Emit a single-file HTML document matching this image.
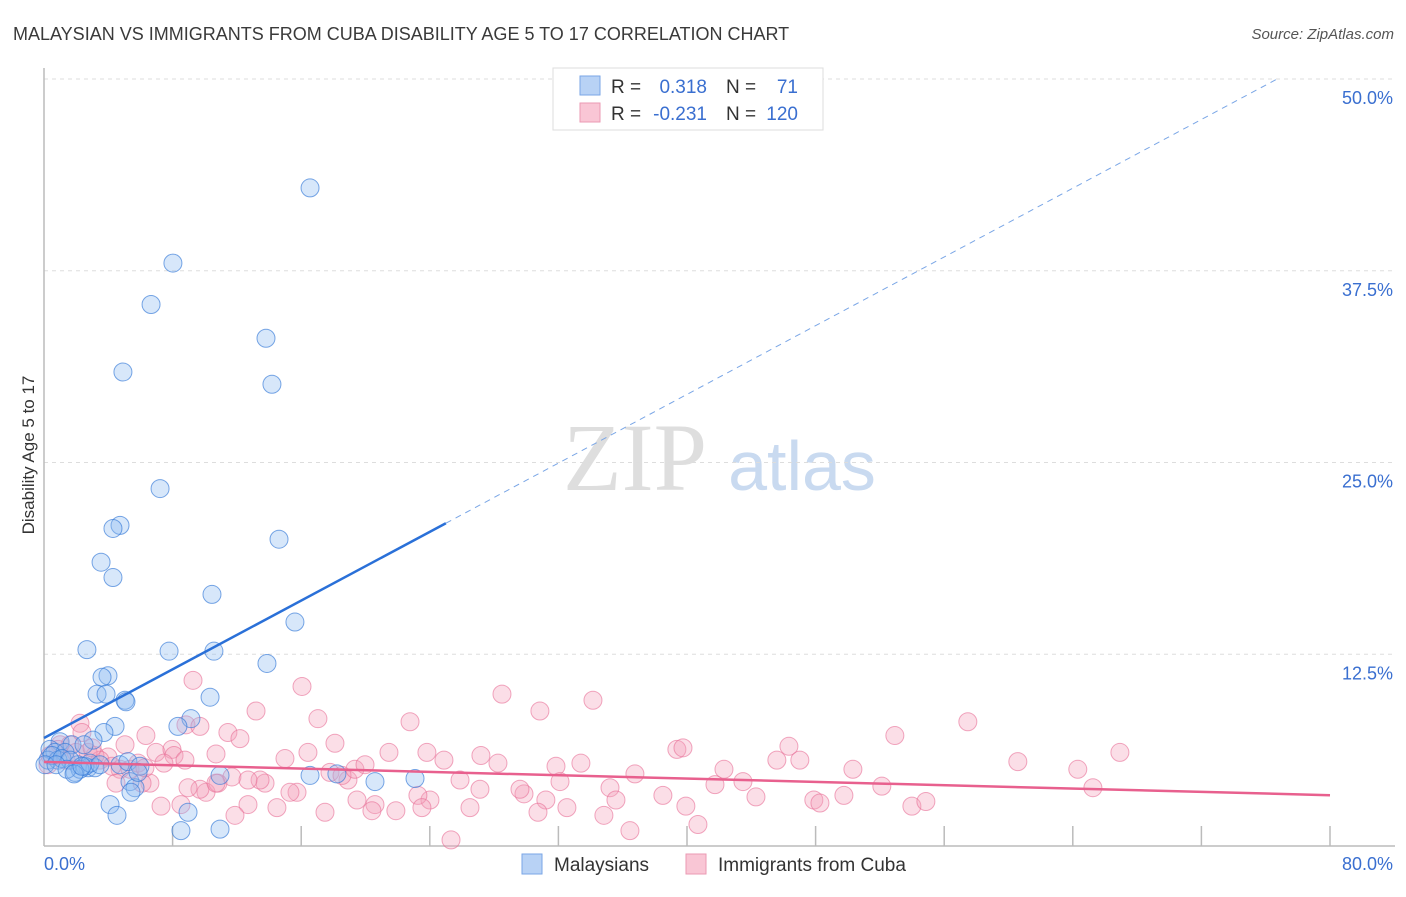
<!DOCTYPE html>
<html><head><meta charset="utf-8"><style>
body{margin:0;background:#fff;font-family:"Liberation Sans",sans-serif}
svg text{font-family:"Liberation Sans",sans-serif}
</style></head><body>
<svg id="chart" width="1406" height="892" viewBox="0 0 1406 892" xmlns="http://www.w3.org/2000/svg">
<text x="13" y="40" font-size="18" fill="#3a3a3a">MALAYSIAN VS IMMIGRANTS FROM CUBA DISABILITY AGE 5 TO 17 CORRELATION CHART</text>
<text x="1394" y="39" font-size="15" fill="#555" font-style="italic" text-anchor="end">Source: ZipAtlas.com</text>
<g>
<text x="635" y="490" font-size="96" fill="#dedede" text-anchor="middle" style="font-family:'Liberation Serif',serif">ZIP</text>
<text x="802" y="490" font-size="70" fill="#c9daf0" text-anchor="middle">atlas</text>
</g>
<g id="grid"></g>
<g id="axes"></g>
<g id="pts"></g>
<g id="lines"></g>
<text transform="translate(34,455) rotate(-90)" font-size="17" fill="#333" text-anchor="middle">Disability Age 5 to 17</text>
<g>
<rect x="553" y="68" width="270" height="62" fill="#fff" stroke="#ddd"/>
<rect x="580" y="76" width="20" height="19" fill="#b8d2f5" stroke="#7aa6e6"/>
<rect x="580" y="103" width="20" height="19" fill="#f9c6d5" stroke="#eb9ab3"/>
<text x="611" y="93" font-size="19" fill="#333">R =</text>
<text x="707" y="93" font-size="19" fill="#3a6fd0" text-anchor="end">0.318</text>
<text x="726" y="93" font-size="19" fill="#333">N =</text>
<text x="798" y="93" font-size="19" fill="#3a6fd0" text-anchor="end">71</text>
<text x="611" y="120" font-size="19" fill="#333">R =</text>
<text x="707" y="120" font-size="19" fill="#3a6fd0" text-anchor="end">-0.231</text>
<text x="726" y="120" font-size="19" fill="#333">N =</text>
<text x="798" y="120" font-size="19" fill="#3a6fd0" text-anchor="end">120</text>
</g>
<g>
<rect x="522" y="854" width="20" height="20" fill="#b8d2f5" stroke="#7aa6e6"/>
<text x="554" y="871" font-size="19" fill="#333">Malaysians</text>
<rect x="686" y="854" width="20" height="20" fill="#f9c6d5" stroke="#eb9ab3"/>
<text x="718" y="871" font-size="19" fill="#333">Immigrants from Cuba</text>
</g>
</svg>
<script>
const yTicks=[12.5,25,37.5,50];
const yTickLabels=["12.5%","25.0%","37.5%","50.0%"];
const xTickVals=[0,8,16,24,32,40,48,56,64,72,80];
const xEndLabels=["0.0%","80.0%"];
const blueX=[16.55,8.02,6.66,13.81,4.91,14.18,7.22,4.73,4.29,14.62,3.55,4.29,10.45,15.61,2.67,7.78,10.57,13.87,3.98,3.61,3.30,3.86,5.04,10.33,5.10,9.14,8.33,4.42,3.73,3.05,1.0,1.74,2.49,0.37,0.68,1.31,0.25,0.87,2.11,2.74,3.17,2.55,1.93,4.73,5.22,5.97,16.55,20.59,23.08,10.95,18.22,5.35,5.66,5.41,4.11,4.54,8.96,8.52,10.95,0.5,1.12,1.62,2.24,2.86,3.48,0.06,0.75,1.43,1.87,2.36,5.85];
const blueY=[42.9,38.0,35.3,33.1,30.9,30.1,23.3,20.9,20.7,20.0,18.5,17.5,16.4,14.6,12.8,12.7,12.7,11.9,11.1,11.0,9.9,9.9,9.5,9.7,9.4,8.3,7.8,7.8,7.4,6.9,6.8,6.6,6.6,6.3,6.1,6.1,5.6,5.6,5.3,5.1,5.1,5.2,4.8,5.3,5.5,5.2,4.6,4.2,4.4,4.6,4.7,4.2,3.8,3.5,2.7,2.0,2.2,1.0,1.1,5.9,5.7,5.6,5.0,5.4,5.3,5.3,5.3,5.0,4.7,5.2,4.8];
const pinkX=[9.27,16.05,28.49,34.15,30.85,17.04,22.77,57.47,13.19,52.93,11.44,12.19,6.34,2.24,2.36,8.83,9.70,6.97,7.96,8.09,8.77,7.46,5.04,3.98,10.70,18.10,16.42,14.99,21.46,23.82,24.88,27.18,28.24,31.85,33.40,36.76,39.37,39.75,42.30,46.34,47.02,45.59,50.32,60.58,64.31,66.93,65.25,52.12,41.74,43.48,35.21,32.10,29.86,31.22,35.58,38.50,39.93,44.29,47.89,48.27,49.76,53.99,54.86,40.68,36.45,34.83,32.53,30.73,25.32,26.50,24.01,23.26,23.51,21.89,20.59,19.47,20.40,17.48,15.74,15.30,13.75,13.44,11.69,12.69,10.08,9.70,10.82,8.96,7.28,8.52,12.69,14.49,11.88,10.70,6.59,6.10,4.73,5.35,4.48,3.17,3.48,1.0,1.62,0.37,0.25,0.87,1.37,1.99,2.74,2.99,4.23,5.85,6.28,18.91,17.79,18.54,19.34,19.97,25.88,27.12,29.61];
const pinkY=[10.8,10.4,9.9,9.5,8.8,8.3,8.1,8.1,8.8,7.2,7.4,7.0,7.2,8.0,7.4,7.9,7.8,6.1,6.3,5.9,5.6,5.4,6.6,5.8,6.0,6.7,6.1,5.7,6.1,6.1,5.6,5.9,5.4,5.2,5.4,4.7,6.3,6.4,5.0,6.5,5.6,5.6,5.0,5.5,5.0,6.1,3.8,3.9,4.0,4.2,3.8,4.2,3.4,3.0,3.0,3.3,2.6,3.2,3.0,2.8,3.3,2.6,2.9,1.4,1.0,2.0,2.5,2.2,0.4,2.5,3.0,3.3,2.5,2.3,2.7,3.0,2.3,2.2,3.5,3.5,4.1,4.3,4.5,4.3,3.5,3.7,4.1,3.8,2.6,2.7,2.7,2.5,2.0,4.1,4.1,4.1,5.0,5.0,4.1,5.9,5.6,6.6,6.6,5.9,5.3,6.3,5.6,6.1,6.1,6.4,5.2,5.4,5.1,4.3,4.8,4.6,5.0,5.3,4.3,3.7,3.7];
const blueTrend=[7.04,0.56,25,76.7];
const pinkTrend=[5.48,-0.0271,80];

const X0=44,X1=1330,Y0=846,Y50=79;
const sx=v=>X0+(X1-X0)*v/80;
const sy=v=>Y0-(Y0-Y50)*v/50;
const NS="http://www.w3.org/2000/svg";
function mk(tag,attrs,parent){const e=document.createElementNS(NS,tag);for(const k in attrs)e.setAttribute(k,attrs[k]);document.getElementById(parent).appendChild(e);return e;}

yTicks.forEach((t,i)=>{
  const g=mk('line',{x1:X0,x2:1395,y1:sy(t),y2:sy(t),stroke:'#ddd','stroke-dasharray':'4,4'},'grid');
  
  
  const tx=mk('text',{x:1393,y:sy(t)+25,'font-size':18,fill:'#3a6fd0','text-anchor':'end'},'axes');
  tx.textContent=yTickLabels[i];
  
  
});
const ax=mk('line',{x1:X0,x2:X0,y1:68,y2:Y0,stroke:'#bbb','stroke-width':1.5},'axes');


const bx=mk('line',{x1:X0,x2:1395,y1:Y0,y2:Y0,stroke:'#bbb','stroke-width':1.5},'axes');


xTickVals.forEach(t=>{
  if(t===0)return;
  const l=mk('line',{x1:sx(t),x2:sx(t),y1:826,y2:Y0,stroke:'#bbb','stroke-width':1.5},'axes');
  
  
});
const xl0=mk('text',{x:X0,y:870,'font-size':18,fill:'#3a6fd0'},'axes');xl0.textContent=xEndLabels[0];


const xl1=mk('text',{x:1393,y:870,'font-size':18,fill:'#3a6fd0','text-anchor':'end'},'axes');xl1.textContent=xEndLabels[1];



pinkX.forEach((v,i)=>{
  const c=mk('circle',{cx:sx(v),cy:sy(pinkY[i]),r:9,fill:'rgba(244,160,185,0.35)',stroke:'rgba(232,110,150,0.6)','stroke-width':1},'pts');
  
  
});
blueX.forEach((v,i)=>{
  const c=mk('circle',{cx:sx(v),cy:sy(blueY[i]),r:9,fill:'rgba(140,185,240,0.35)',stroke:'rgba(50,120,215,0.65)','stroke-width':1},'pts');
  
  
});
const bf=x=>blueTrend[0]+blueTrend[1]*x;
const b1=mk('line',{x1:sx(0),y1:sy(bf(0)),x2:sx(blueTrend[2]),y2:sy(bf(blueTrend[2])),stroke:'#2a70d8','stroke-width':2.5},'lines');


const b2=mk('line',{x1:sx(blueTrend[2]),y1:sy(bf(blueTrend[2])),x2:sx(blueTrend[3]),y2:sy(bf(blueTrend[3])),stroke:'#7aa6e6','stroke-width':1,'stroke-dasharray':'6,5'},'lines');


const pf=x=>pinkTrend[0]+pinkTrend[1]*x;
const p1=mk('line',{x1:sx(0),y1:sy(pf(0)),x2:sx(pinkTrend[2]),y2:sy(pf(pinkTrend[2])),stroke:'#e8608e','stroke-width':2.5},'lines');


</script>
</body></html>
